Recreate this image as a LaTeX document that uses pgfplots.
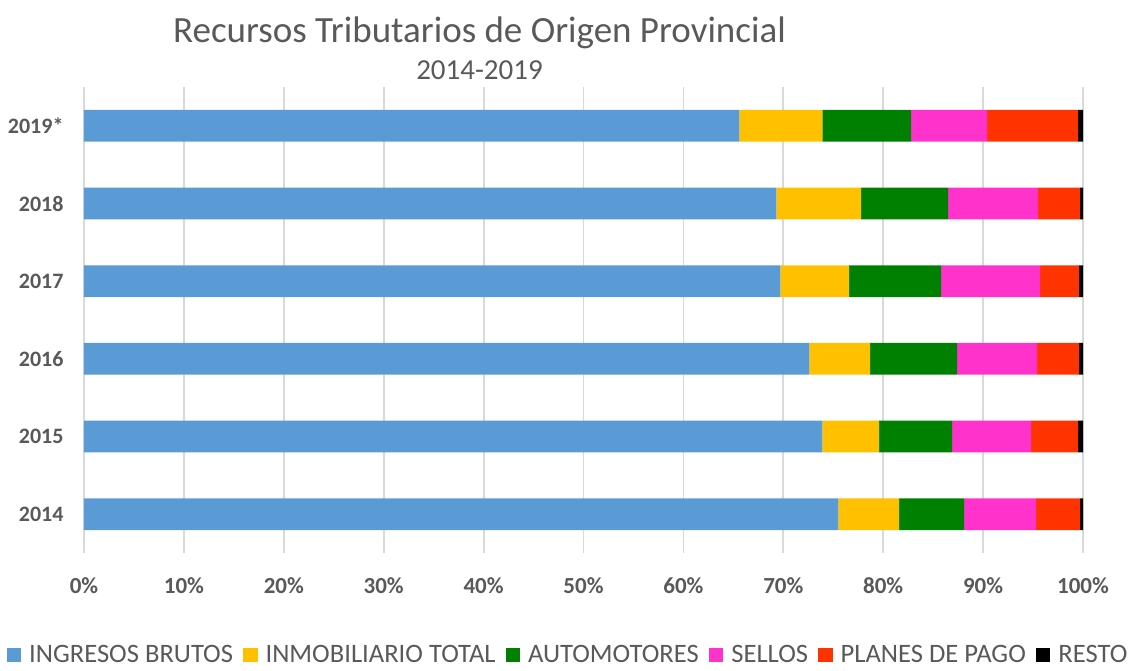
\documentclass[border=0pt]{standalone}
\usepackage{fontspec}
\setmainfont{Carlito}
\usepackage{pgfplots}
\pgfplotsset{compat=1.18}
\definecolor{cIB}{HTML}{5B9BD5}
\definecolor{cIT}{HTML}{FFC000}
\definecolor{cAU}{HTML}{008000}
\definecolor{cSE}{HTML}{FF33CC}
\definecolor{cPP}{HTML}{FF3300}
\definecolor{cRE}{HTML}{000000}
\definecolor{txt}{HTML}{595959}
\definecolor{gridc}{HTML}{D9D9D9}
\pgfplotsset{sq/.style={legend image code/.code={\fill[##1] (0pt,-7.2pt) rectangle (14.5pt,7.2pt);}}}
\begin{document}
\begin{tikzpicture}
\path[use as bounding box] (0,0) rectangle (1132pt,670pt);
\begin{axis}[
  at={(84pt,117pt)}, anchor=south west,
  scale only axis, width=999pt, height=466pt,
  xbar stacked, bar width=31.7pt,
  xmin=0, xmax=100, ymin=-0.5, ymax=5.5,
  ytick={0,...,5},
  yticklabels={2014,2015,2016,2017,2018,2019*},
  xtick={0,10,...,100},
  xticklabels={0\%,10\%,20\%,30\%,40\%,50\%,60\%,70\%,80\%,90\%,100\%},
  xmajorgrids, grid style={draw=gridc, line width=1.8pt},
  axis line style={draw=none},
  major tick length=0pt,
  tick label style={font=\bfseries\fontsize{23}{27}\selectfont, text=txt},
  xticklabel style={yshift=-21pt},
  yticklabel style={xshift=-17pt, font=\bfseries\fontsize{22}{26}\selectfont},
  legend style={at={(0.4835,-0.2189)}, anchor=center, draw=none, fill=none,
    legend columns=6, font=\fontsize{26.6}{30}\selectfont, text=txt,
    nodes={inner xsep=0pt},
    /tikz/every odd column/.append style={column sep=8pt},
    /tikz/every even column/.append style={column sep=10pt}},
]
\addplot[fill=cIB, draw=none, sq] coordinates {(75.5,0) (73.9,1) (72.6,2) (69.7,3) (69.3,4) (65.6,5)};
\addplot[fill=cIT, draw=none, sq] coordinates {(6.1,0) (5.7,1) (6.1,2) (6.9,3) (8.5,4) (8.3,5)};
\addplot[fill=cAU, draw=none, sq] coordinates {(6.5,0) (7.3,1) (8.7,2) (9.2,3) (8.7,4) (8.9,5)};
\addplot[fill=cSE, draw=none, sq] coordinates {(7.2,0) (7.9,1) (8.0,2) (9.9,3) (9.0,4) (7.6,5)};
\addplot[fill=cPP, draw=none, sq] coordinates {(4.4,0) (4.7,1) (4.2,2) (3.9,3) (4.2,4) (9.1,5)};
\addplot[fill=cRE, draw=none, sq] coordinates {(0.3,0) (0.5,1) (0.4,2) (0.4,3) (0.3,4) (0.5,5)};
\legend{INGRESOS BRUTOS, INMOBILIARIO TOTAL, AUTOMOTORES, SELLOS, PLANES DE PAGO, RESTO}
\end{axis}
\node[anchor=base, text=txt, font=\fontsize{37}{42}\selectfont] at (479.5pt,627pt) {Recursos Tributarios de Origen Provincial};
\node[anchor=base, text=txt, font=\fontsize{29}{33}\selectfont] at (479.5pt,590pt) {2014-2019};
\end{tikzpicture}
\end{document}
